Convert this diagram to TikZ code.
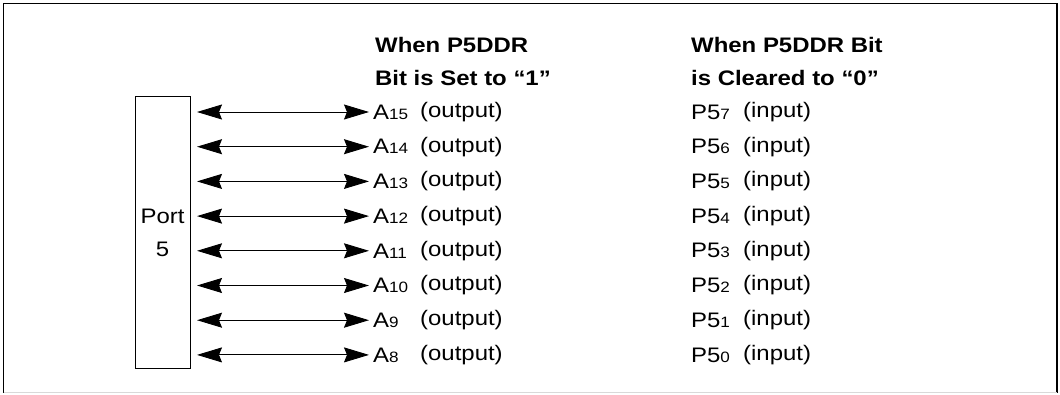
\documentclass[tikz,border=0pt]{standalone}
\usepackage{fontspec}
\setmainfont{Liberation Sans}[FakeStretch=1.14]
\usetikzlibrary{arrows.meta}
\begin{document}
\begin{tikzpicture}[x=1pt,y=-1pt,
  lbl/.style={anchor=west,inner sep=0pt,font=\fontsize{21}{25}\selectfont},
  head/.style={anchor=west,inner sep=0pt,font=\fontsize{21}{25}\selectfont\bfseries},
  bus/.style={line width=0.9pt,{Stealth[length=25pt,width=15pt,inset=3pt]}-{Stealth[length=25pt,width=15pt,inset=3pt]}}]
\useasboundingbox (0,0) rectangle (1060,394);
\draw[line width=1.2pt] (3.5,392.5) -- (3.5,3.5) -- (1057,3.5) -- (1057,392.5);
\draw[line width=1pt,black!15] (3.5,392.5) -- (1057,392.5);
\node[draw,line width=0.9pt,minimum width=55pt,minimum height=272pt,inner sep=0pt,anchor=north west] (port) at (135,96) {};
\node[font=\fontsize{21}{25}\selectfont,inner sep=0pt] (pt1) at (162.5,216) {Port};
\node[font=\fontsize{21}{25}\selectfont,inner sep=0pt] (pt2) at (162.5,249) {5};
\node[head] (h1a) at (375,45) {When P5DDR};
\node[head] (h1b) at (375,78) {Bit is Set to “1”};
\node[head] (h2a) at (691,45) {When P5DDR Bit};
\node[head] (h2b) at (691,78) {is Cleared to “0”};
\foreach \i/\a/\p in {0/15/7,1/14/6,2/13/5,3/12/4,4/11/3,5/10/2,6/9/1,7/8/0}{
  \pgfmathsetmacro{\yy}{112+34.7*\i}
  \coordinate (l\i) at (197,\yy);
  \coordinate (r\i) at (369,\yy);
  \draw[bus] (l\i) -- (r\i);
  \node[lbl] (a\i) at (373,\yy) {A{\fontsize{15}{17}\selectfont\a}};
  \node[lbl] (o\i) at (420,\yy) {(output)};
  \node[lbl] (p\i) at (691,\yy) {P5{\fontsize{15}{17}\selectfont\p}};
  \node[lbl] (n\i) at (743,\yy) {(input)};
}
\end{tikzpicture}
\end{document}
